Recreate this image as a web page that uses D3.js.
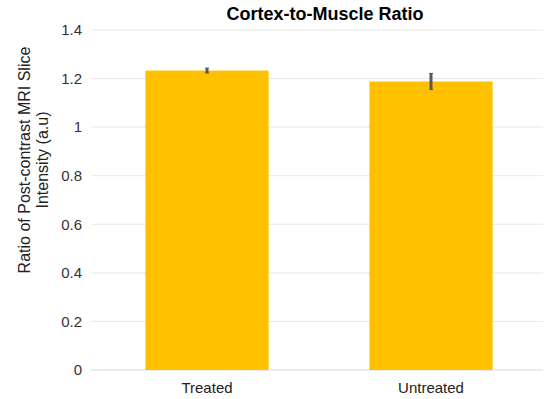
<!DOCTYPE html>
<html>
<head>
<meta charset="utf-8">
<script src="https://cdn.jsdelivr.net/npm/d3@7"></script>
<style>
body { margin: 0; background: #fff; }
text { font-family: "Liberation Sans", Arial, sans-serif; }
</style>
</head>
<body>
<div id="chart"></div>
<script>
const categories = ["Treated", "Untreated"];
const values = [1.233, 1.188];
const errors = [0.01, 0.033];
const yTicks = [0, 0.2, 0.4, 0.6, 0.8, 1, 1.2, 1.4];

const width = 550, height = 399;
const margin = { left: 95, right: 7, top: 30, bottom: 29 };

const svg = d3.select("#chart").append("svg")
	.attr("width", width)
	.attr("height", height);

const xs = d3.scaleBand().domain(categories)
	.range([margin.left, width - margin.right])
	.paddingInner(0.45).paddingOuter(0.225);
const ys = d3.scaleLinear().domain([0, 1.4]).range([height - margin.bottom, margin.top]);

// gridlines
svg.append("g").selectAll("line")
	.data(yTicks).enter().append("line")
		.attr("x1", 91)
		.attr("x2", width - margin.right)
		.attr("y1", d => ys(d))
		.attr("y2", d => ys(d))
		.style("stroke", d => d === 0 ? "#d9d9d9" : "#e8e8e8")
		.style("stroke-width", 1);

// y tick labels
svg.append("g").selectAll("text")
	.data(yTicks).enter().append("text")
		.attr("x", 82)
		.attr("y", d => ys(d))
		.attr("dy", "0.35em")
		.attr("text-anchor", "end")
		.style("font-size", "15px")
		.style("fill", "#333")
		.text(d => d);

// bars
svg.append("g").selectAll("rect")
	.data(categories).enter().append("rect")
		.attr("x", d => xs(d))
		.attr("width", xs.bandwidth())
		.attr("y", (d, i) => ys(values[i]))
		.attr("height", (d, i) => ys(0) - ys(values[i]))
		.style("fill", "#ffc000");

// error bars
const eb = svg.append("g").selectAll("g")
	.data(categories).enter().append("g");
eb.append("line")
	.attr("x1", d => xs(d) + xs.bandwidth() / 2)
	.attr("x2", d => xs(d) + xs.bandwidth() / 2)
	.attr("y1", (d, i) => ys(values[i] - errors[i]))
	.attr("y2", (d, i) => ys(values[i] + errors[i]))
	.style("stroke", "#595959")
	.style("stroke-width", 3);
["-", "+"].forEach(s => {
	eb.append("line")
		.attr("x1", d => xs(d) + xs.bandwidth() / 2 - 2)
		.attr("x2", d => xs(d) + xs.bandwidth() / 2 + 2)
		.attr("y1", (d, i) => ys(values[i] + (s === "+" ? errors[i] : -errors[i])))
		.attr("y2", (d, i) => ys(values[i] + (s === "+" ? errors[i] : -errors[i])))
		.style("stroke", "#595959")
		.style("stroke-width", 1);
});

// category labels
svg.append("g").selectAll("text")
	.data(categories).enter().append("text")
		.attr("x", d => xs(d) + xs.bandwidth() / 2)
		.attr("y", 393)
		.attr("text-anchor", "middle")
		.style("font-size", "15px")
		.style("fill", "#222")
		.text(d => d);

// title
svg.append("text")
	.attr("x", 325)
	.attr("y", 20)
	.attr("text-anchor", "middle")
	.style("font-size", "18px")
	.style("font-weight", "bold")
	.style("fill", "#000")
	.text("Cortex-to-Muscle Ratio");

// y axis title
const yt = svg.append("text")
	.attr("transform", "translate(0,160) rotate(-90)")
	.attr("text-anchor", "middle")
	.style("font-size", "16px")
	.style("fill", "#222");
yt.append("tspan").attr("x", 0).attr("y", 30).text("Ratio of Post-contrast MRI Slice");
yt.append("tspan").attr("x", 0).attr("y", 48).text("Intensity (a.u)");
</script>
</body>
</html>
